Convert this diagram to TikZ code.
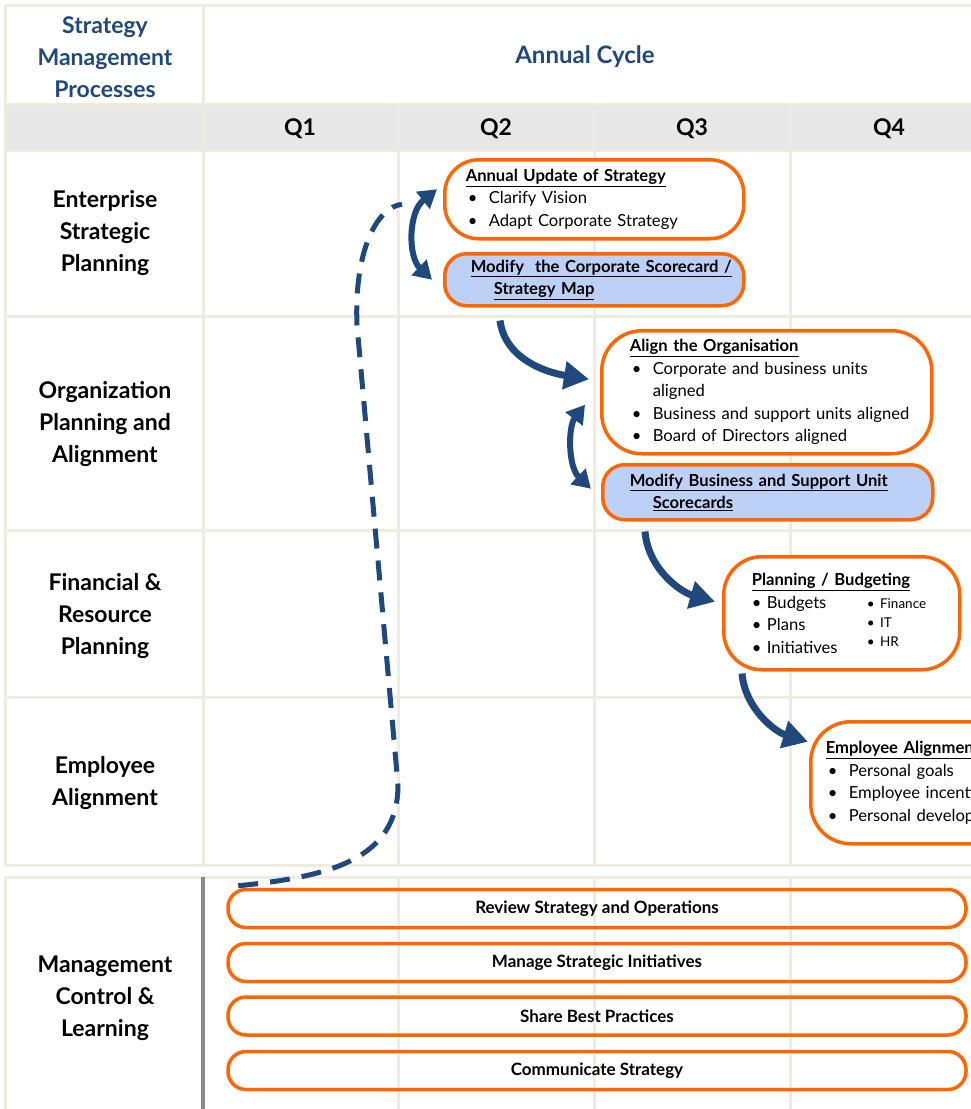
\documentclass[tikz,border=0pt]{standalone}
\usepackage{fontspec}
\setmainfont{Lato}
\usetikzlibrary{arrows.meta,calc}
\definecolor{orangeline}{HTML}{FF6600}
\definecolor{cardblue}{HTML}{BDD1F7}
\definecolor{darkblue}{HTML}{1F497D}
\definecolor{gridline}{HTML}{EEEBDF}
\definecolor{headgray}{HTML}{E8E8E8}
\definecolor{bargray}{HTML}{8A8A8A}
\newcommand{\bul}[1]{\mbox{\makebox[23pt][l]{\hspace{2pt}\textbullet}#1}}
\newcommand{\cont}[1]{\mbox{\hspace*{23pt}#1}}
\newcommand{\ttl}[1]{\underline{\textbf{#1}}}
\tikzset{
    grid/.style={draw=gridline, line width=3pt},
    rowlabel/.style={font=\fontsize{23}{32}\selectfont\bfseries, align=center},
    headlabel/.style={rowlabel, text=darkblue},
    stage/.style={draw=orangeline, line width=3.5pt, fill=white, align=left,
        rounded corners=34pt, anchor=north west,
        font=\fontsize{16.6}{22.5}\selectfont},
    scorecard/.style={stage, fill=cardblue, rounded corners=22pt},
    bar/.style={draw=orangeline, line width=3.5pt, rounded corners=18pt,
        minimum width=738pt, minimum height=38pt,
        font=\fontsize{17}{20}\selectfont\bfseries},
    flow/.style={draw=darkblue, line width=7pt,
        -{Triangle[length=25pt, width=27pt]}},
    twoway/.style={draw=darkblue, line width=6pt,
        {Triangle[length=18pt, width=21pt]}-{Triangle[length=18pt, width=21pt]}},
    feedback/.style={draw=darkblue, line width=5pt, dash pattern=on 20pt off 12pt}
}
\begin{document}
\begin{tikzpicture}[x=1pt, y=-1pt]
    \clip (0,0) rectangle (971,1109);
    \fill [white] (0,0) rectangle (971,1109);
    % table
    \fill [headgray] (5,104) rectangle (971,150);
    \foreach \y in {5,104,150,316,530,697,865,877}
        \draw [grid] (5,\y) -- (971,\y);
    \draw [grid] (5,5) -- (5,865) (5,877) -- (5,1109);
    \draw [grid] (203,5) -- (203,865);
    \foreach \x in {398,594,790}
        \draw [grid] (\x,104) -- (\x,865) (\x,877) -- (\x,1109);
    \draw [bargray, line width=4pt] (203,877) -- (203,1109);

    \node [headlabel] (processes) at (105,57) {Strategy\\Management\\Processes};
    \node [headlabel, font=\fontsize{24}{30}\selectfont\bfseries] (cycle) at (585,57) {Annual Cycle};
    \foreach \q/\x in {1/300,2/496,3/692,4/889}
        \node [rowlabel, font=\fontsize{23}{30}\selectfont\bfseries] (q\q) at (\x,129) {Q\q};

    \node [rowlabel] (enterprise) at (105,233) {Enterprise\\Strategic\\Planning};
    \node [rowlabel] (organization) at (105,424) {Organization\\Planning and\\Alignment};
    \node [rowlabel] (financial) at (105,616) {Financial \&\\Resource\\Planning};
    \node [rowlabel] (employee) at (105,783) {Employee\\Alignment};
    \node [rowlabel] (control) at (105,998) {Management\\Control \&\\Learning};

    % stages
    \node [stage, inner xsep=21pt, text width=257pt, minimum height=79pt] (annual) at (443,158)
        {\ttl{Annual Update of Strategy}\\ \bul{Clarify Vision}\\ \bul{Adapt Corporate Strategy}};
    \node [scorecard, inner xsep=26pt, text width=247pt, minimum height=52pt] (modcorp) at (443,252)
        {\ttl{Modify\ \ the Corporate Scorecard /}\\ \cont{\ttl{Strategy Map}}};
    \node [stage, rounded corners=40pt, inner xsep=28pt, text width=274pt, minimum height=123pt] (align) at (600,329)
        {\ttl{Align the Organisation}\\ \bul{Corporate and business units}\\ \cont{aligned}\\
         \bul{Business and support units aligned}\\ \bul{Board of Directors aligned}};
    \node [scorecard, inner xsep=27pt, text width=276pt, minimum height=55pt] (modbus) at (601,463)
        {\ttl{Modify Business and Support Unit}\\ \cont{\ttl{Scorecards}}};
    \node [stage, rounded corners=38pt, inner xsep=28pt, text width=180pt, minimum height=113pt] (planning) at (722,555)
        {\ttl{Planning / Budgeting}\\
         \begin{minipage}[t]{115pt}\textbullet{} Budgets\\ \textbullet{} Plans\\ \textbullet{} Initiatives\end{minipage}%
         \begin{minipage}[t]{65pt}\fontsize{13.5}{19}\selectfont\textbullet{} Finance\\ \textbullet{} IT\\ \textbullet{} HR\end{minipage}};
    \node [stage, rounded corners=40pt, inner xsep=15pt, text width=190pt, minimum height=122pt] (empalign) at (809,720)
        {\ttl{Employee Alignment}\\ \bul{Personal goals}\\ \bul{Employee incentives}\\ \bul{Personal development}};

    \foreach \n/\y/\t in {review/908.5/Review Strategy and Operations,
                          manage/962.5/Manage Strategic Initiatives,
                          share/1016/Share Best Practices,
                          communicate/1070.5/Communicate Strategy}
        \node [bar] (\n) at (597,\y) {\t};

    % arrows
    \draw [twoway] ($(annual.west)+(-6,-10)$) .. controls +(-29,23) and +(-24,-23) .. ($(modcorp.west)+(-11,0)$);
    \draw [flow] ($(modcorp.south west)+(57,13)$) .. controls +(5,38) and +(-44,-7) .. ($(align.west)+(-11,-13)$);
    \draw [twoway] ($(align.west)+(-15,12.5)$) .. controls +(-17,22) and +(-23,-22) .. ($(modbus.west)+(-10,-3.5)$);
    \draw [flow] ($(modbus.south west)+(44,10)$) .. controls +(3,37) and +(-35,-10) .. ($(planning.west)+(-7,-11.5)$);
    \draw [flow] ($(planning.south west)+(20,2)$) .. controls +(3,35) and +(-33,-10) .. ($(empalign.west)+(-1,-41)$);

    \coordinate (lowbend) at (398,785);
    \coordinate (highbend) at (357,325);
    \draw [feedback] ($(review.north west)+(12,-2)$) .. controls +(90,-9) and +(0,75) .. (lowbend)
        -- (highbend) .. controls +(-3,-75) and +(-25,3) .. ($(annual.west)+(-41,5)$);
\end{tikzpicture}
\end{document}
